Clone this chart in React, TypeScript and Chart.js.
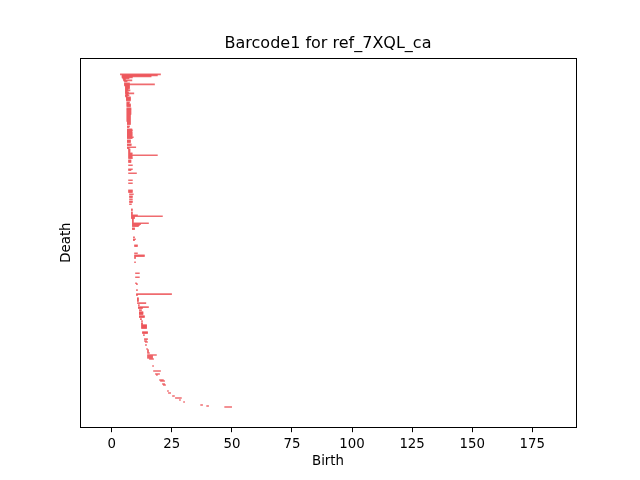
import { useEffect, useRef } from "react";
import { Chart, registerables } from "chart.js";

Chart.register(...registerables);

const chartTitle = "Barcode1 for ref_7XQL_ca";
const xLabel = "Birth";
const yLabel = "Death";
const xTicks = [0, 25, 50, 75, 100, 125, 150, 175];

// bar index (0 = top row) for every persistence bar
const barIndex = [
  0, 1, 2, 3, 4, 5, 6, 7, 9, 10,
  11, 12, 13, 14, 15, 16, 17, 18, 19, 20,
  21, 22, 23, 24, 25, 26, 28, 29, 30, 31,
  32, 34, 35, 36, 37, 38, 39, 40, 41, 42,
  43, 44, 45, 46, 47, 48, 49, 50, 52, 53,
  55, 56, 57, 58, 59, 60, 61, 62, 63, 64,
  66, 67, 68, 70, 71, 73, 74, 75, 76, 77,
  78, 79, 80, 81, 82, 83, 84, 86, 87, 88,
  91, 95, 96, 99, 106, 109, 116, 117, 118, 120,
  122, 123, 125, 127, 128, 130, 135, 136, 138, 139,
  140, 141, 142, 143, 144, 145, 146, 147, 148, 149,
  150, 151, 152, 154, 155, 163, 165, 166, 171, 172,
  179, 181, 182, 183, 184, 188, 199, 203, 209, 210,
  216, 220, 221, 224, 225, 226, 227, 229, 231, 233,
  234, 236, 238, 239, 240, 242, 243, 245, 247, 249,
  250, 251, 252, 253, 254, 258, 259, 261, 265, 267,
  268, 271, 275, 276, 277, 278, 279, 281, 282, 283,
  284, 285, 292, 297, 300, 301, 306, 307, 310, 311,
  317, 319, 322, 324, 326, 328, 331, 332, 333,
];

const births = [
  3.6, 4.3, 4.3, 4.3, 4.6, 4.9, 4.9, 5.3, 5.3, 5.3,
  5.3, 5.7, 5.7, 5.7, 5.7, 5.7, 5.7, 5.7, 5.7, 5.9,
  5.7, 5.7, 6.1, 6.1, 6.1, 6.1, 6.3, 6.3, 6.3, 6.3,
  6.3, 6.3, 6.3, 6.3, 6.3, 6.3, 6.3, 6.3, 6.3, 6.3,
  6.3, 6.3, 6.3, 6.3, 6.3, 6.5, 6.5, 6.5, 6.5, 6.5,
  6.5, 6.5, 6.5, 6.5, 6.5, 6.5, 6.5, 6.5, 6.5, 6.5,
  6.5, 6.5, 6.5, 6.5, 6.5, 6.5, 6.5, 7.0, 7.0, 7.0,
  7.0, 7.0, 7.0, 7.0, 7.0, 7.0, 7.0, 7.0, 7.0, 7.0,
  7.0, 7.0, 7.0, 7.0, 7.0, 7.0, 7.0, 7.0, 7.0, 7.4,
  7.4, 7.4, 7.4, 7.4, 7.4, 7.4, 8.2, 8.2, 8.2, 8.2,
  8.2, 8.2, 8.2, 8.2, 8.2, 8.6, 8.6, 8.6, 8.6, 8.6,
  8.6, 8.6, 8.6, 8.6, 8.6, 9.0, 9.0, 9.0, 9.5, 9.5,
  9.5, 9.5, 9.5, 9.5, 9.5, 9.5, 9.9, 9.9, 9.9, 10.3,
  10.3, 10.3, 10.3, 10.7, 10.7, 10.7, 10.7, 10.7, 11.1, 11.1,
  11.1, 11.5, 11.5, 11.5, 11.5, 11.5, 11.5, 11.9, 12.4, 12.4,
  12.4, 12.4, 12.4, 12.4, 12.4, 12.8, 12.8, 13.2, 13.6, 13.6,
  14.0, 14.0, 14.5, 14.9, 14.9, 14.9, 14.9, 14.9, 14.9, 14.9,
  14.9, 15.7, 17.0, 17.4, 18.2, 18.6, 19.9, 20.3, 21.1, 21.5,
  23.2, 23.6, 25.3, 26.5, 28.2, 29.9, 37.0, 39.5, 47.0,
];

const deaths = [
  20.3, 19.0, 16.4, 8.6, 7.2, 5.7, 8.4, 6.4, 7.4, 17.8,
  7.4, 7.4, 7.4, 7.4, 6.8, 7.6, 6.5, 7.0, 9.2, 6.8,
  7.2, 6.5, 7.8, 7.8, 7.8, 7.8, 7.4, 7.2, 7.8, 7.8,
  7.8, 8.0, 8.0, 8.0, 8.0, 8.0, 8.0, 8.0, 7.8, 7.8,
  7.8, 7.8, 7.8, 7.8, 7.8, 7.8, 7.8, 7.8, 7.4, 7.2,
  8.4, 8.6, 8.4, 8.5, 8.5, 8.5, 8.5, 8.5, 9.0, 8.5,
  7.8, 7.8, 7.8, 8.1, 8.1, 10.0, 7.2, 7.6, 7.6, 7.6,
  7.6, 8.5, 8.5, 19.0, 8.5, 8.5, 8.6, 8.0, 8.0, 8.0,
  8.6, 8.6, 8.0, 10.3, 8.6, 8.6, 8.6, 8.6, 8.6, 9.0,
  8.6, 8.6, 8.6, 8.6, 8.6, 8.2, 8.6, 8.6, 8.6, 8.6,
  8.6, 10.7, 21.1, 9.5, 9.5, 9.0, 9.0, 9.0, 9.0, 15.3,
  12.0, 11.5, 11.1, 9.5, 9.5, 9.5, 9.9, 9.5, 10.7, 10.7,
  10.7, 13.6, 13.6, 9.9, 9.9, 9.9, 11.5, 11.5, 10.3, 10.7,
  10.7, 24.9, 10.7, 11.1, 11.1, 11.1, 11.1, 14.2, 11.5, 15.3,
  12.8, 12.4, 13.0, 13.0, 13.0, 13.6, 13.6, 12.4, 12.8, 12.8,
  12.8, 14.5, 14.5, 14.5, 14.5, 14.9, 14.9, 13.6, 14.9, 14.5,
  14.9, 14.5, 14.9, 15.3, 15.3, 15.3, 15.7, 18.6, 17.0, 17.0,
  17.0, 17.4, 17.4, 20.3, 19.9, 19.0, 21.5, 22.0, 22.0, 22.4,
  23.6, 24.5, 26.1, 29.0, 28.6, 30.3, 37.8, 40.3, 49.9,
];

const BAR_COLOR = "rgba(235, 70, 75, 0.8)";
const FONT = "'DejaVu Sans', sans-serif";

const framePlugin = {
  id: "frame",
  afterDraw(chart: any) {
    const { ctx, chartArea } = chart;
    ctx.save();
    ctx.strokeStyle = "#000";
    ctx.lineWidth = 1;
    ctx.strokeRect(
      Math.round(chartArea.left) + 0.5,
      Math.round(chartArea.top) + 0.5,
      Math.round(chartArea.right - chartArea.left),
      Math.round(chartArea.bottom - chartArea.top)
    );
    // title centred over the plot area
    ctx.fillStyle = "#000";
    ctx.font = `16px ${FONT}`;
    ctx.textAlign = "center";
    ctx.textBaseline = "alphabetic";
    ctx.fillText(chartTitle, (chartArea.left + chartArea.right) / 2, chartArea.top - 10);
    ctx.restore();
  },
};

export default function App() {
  const ref = useRef<HTMLCanvasElement | null>(null);

  useEffect(() => {
    if (!ref.current) return;
    const data = barIndex.map((y, i) => ({ y, x: [births[i], deaths[i]] }));
    const chart = new Chart(ref.current, {
      type: "bar",
      data: {
        datasets: [
          {
            data: data as any,
            backgroundColor: BAR_COLOR,
            borderWidth: 0,
            barThickness: 0.9,
            grouped: false,
          } as any,
        ],
      },
      options: {
        indexAxis: "y",
        animation: false,
        responsive: false,
        devicePixelRatio: 1,
        layout: { padding: { left: 0, right: 64, top: 58, bottom: 0 } },
        plugins: {
          legend: { display: false },
          tooltip: { enabled: false },
          title: { display: false },
        },
        scales: {
          x: {
            type: "linear",
            min: -13.2,
            max: 193.2,
            offset: false,
            afterBuildTicks: (scale: any) => {
              scale.ticks = xTicks.map((v) => ({ value: v }));
            },
            afterFit: (scale: any) => {
              scale.height = 52.8;
            },
            ticks: {
              color: "#000",
              font: { family: FONT, size: 13.33 },
              padding: 4,
              maxRotation: 0,
            },
            grid: {
              display: true,
              drawOnChartArea: false,
              drawTicks: true,
              tickLength: 5,
              color: "#000",
            },
            border: { display: true, color: "#000" },
            title: {
              display: true,
              text: xLabel,
              color: "#000",
              font: { family: FONT, size: 13.33 },
              padding: { top: 10, bottom: 10 },
            },
          },
          y: {
            type: "linear",
            reverse: true,
            offset: false,
            min: -16.4,
            max: 353.2,
            afterFit: (scale: any) => {
              scale.width = 80;
            },
            ticks: { display: false },
            grid: { display: false },
            border: { display: true, color: "#000" },
            title: {
              display: true,
              text: yLabel,
              color: "#000",
              font: { family: FONT, size: 13.33 },
              padding: { top: 59, bottom: 59 },
            },
          },
        },
      } as any,
      plugins: [framePlugin],
    });
    return () => chart.destroy();
  }, []);

  return (
    <div style={{ position: "absolute", left: 0, top: 0, width: 640, height: 480, background: "#fff" }}>
      <canvas ref={ref} width={640} height={480} style={{ width: 640, height: 480 }} />
    </div>
  );
}
